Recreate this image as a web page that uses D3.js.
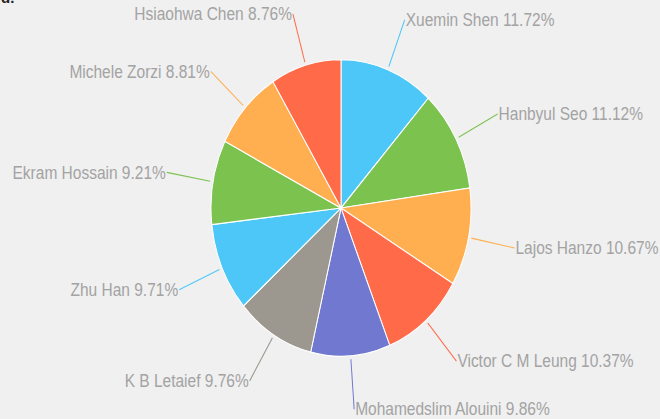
<!DOCTYPE html>
<html>
<head>
<meta charset="utf-8">
<script src="https://cdn.jsdelivr.net/npm/d3@7"></script>
<style>
  html, body { margin: 0; padding: 0; background: #f0f0f0; overflow: hidden; }
  .label { font-family: "Liberation Sans", Arial, sans-serif; font-size: 15.5px; fill: #a3a3a3; }
</style>
</head>
<body>
<div id="chart"></div>
<script>
// chart values
var names = ["Xuemin Shen", "Hanbyul Seo", "Lajos Hanzo", "Victor C M Leung",
  "Mohamedslim Alouini", "K B Letaief", "Zhu Han", "Ekram Hossain",
  "Michele Zorzi", "Hsiaohwa Chen"];
var shares = [11.72, 11.12, 10.67, 10.37, 9.86, 9.76, 9.71, 9.21, 8.81, 8.76];
var colors = ["#4dc7f7", "#7cc24f", "#ffae50", "#ff6a48", "#7078d0", "#9c978f"];

var svgWidth = 660;
var svgHeight = 419;
// the picture is a bit stretched vertically
var yStretch = 1.14;
var cx = 341, cy = 208;
var radius = 130;

var svg = d3.select("#chart").append("svg")
  .attr("width", svgWidth)
  .attr("height", svgHeight);

// cut-off title in the corner
svg.append("text")
  .attr("x", 1)
  .attr("y", 3)
  .style("font-family", "Liberation Sans, Arial, sans-serif")
  .style("font-weight", "bold")
  .style("font-size", "15px")
  .attr("fill", "#222")
  .text("d.");

var data = names.map(function(n, i) { return {name: n, value: shares[i]}; });

var color = d3.scaleOrdinal().domain(names)
  .range(colors);

var pie = d3.pie().sort(null).value(function(d) { return d.value; });
var arcs = pie(data);

var arc = d3.arc().innerRadius(0).outerRadius(radius);

var chartGroup = svg.append("g")
  .attr("transform", `translate(${cx}, ${cy}) scale(1, ${yStretch})`);

chartGroup.selectAll("path.slice")
  .data(arcs)
  .enter()
  .append("path")
  .attr("class", "slice")
  .attr("d", arc)
  .attr("fill", function(d) { return color(d.data.name); })
  .attr("stroke", "#ffffff")
  .attr("stroke-width", 1);

// leader lines + labels
var lineStart = 133, lineEnd = 177;
function polar(r, a) { return [Math.sin(a) * r, -Math.cos(a) * r]; }

var labels = chartGroup.selectAll("g.lab")
  .data(arcs)
  .enter()
  .append("g")
  .attr("class", "lab");

labels.append("line")
  .attr("x1", function(d) { return polar(lineStart, (d.startAngle + d.endAngle) / 2)[0]; })
  .attr("y1", function(d) { return polar(lineStart, (d.startAngle + d.endAngle) / 2)[1]; })
  .attr("x2", function(d) { return polar(lineEnd, (d.startAngle + d.endAngle) / 2)[0]; })
  .attr("y2", function(d) { return polar(lineEnd, (d.startAngle + d.endAngle) / 2)[1]; })
  .attr("stroke", function(d) { return color(d.data.name); })
  .attr("stroke-width", 1);

labels.append("text")
  .attr("class", "label")
  .attr("x", function(d) {
    var p = polar(lineEnd, (d.startAngle + d.endAngle) / 2);
    return p[0] < 0 ? p[0] - 1 : p[0] + 1;
  })
  .attr("y", function(d) { return polar(lineEnd, (d.startAngle + d.endAngle) / 2)[1]; })
  .attr("dy", "0.35em")
  .style("text-anchor", function(d) {
    return polar(lineEnd, (d.startAngle + d.endAngle) / 2)[0] < 0 ? "end" : "start";
  })
  .text(function(d) { return d.data.name + " " + d.data.value.toFixed(2) + "%"; });
</script>
</body>
</html>
